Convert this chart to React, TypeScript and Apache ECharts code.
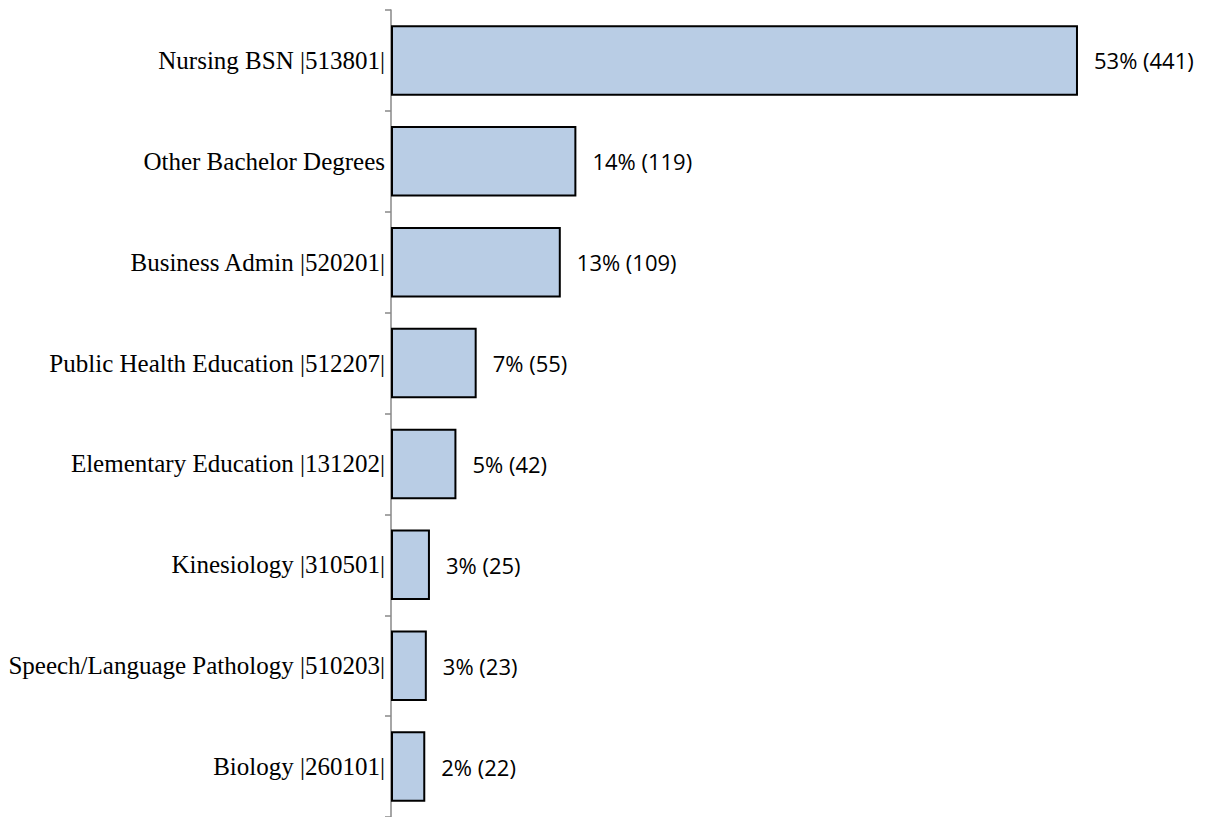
import React, { useEffect, useRef } from "react";
import * as echarts from "echarts";

const categories = [
  "Nursing BSN |513801|",
  "Other Bachelor Degrees",
  "Business Admin |520201|",
  "Public Health Education |512207|",
  "Elementary Education |131202|",
  "Kinesiology |310501|",
  "Speech/Language Pathology |510203|",
  "Biology |260101|",
];
const counts = [441, 119, 109, 55, 42, 25, 23, 22];
const percents = ["53%", "14%", "13%", "7%", "5%", "3%", "3%", "2%"];

export default function App() {
  const ref = useRef<HTMLDivElement>(null);
  useEffect(() => {
    const chart = echarts.init(ref.current!, null, { renderer: "svg" });
    chart.setOption({
      animation: false,
      backgroundColor: "#ffffff",
      grid: { left: 391, top: 10, width: 701, height: 808 },
      xAxis: { type: "value", min: 0, max: 450, show: false },
      yAxis: {
        type: "category",
        data: categories,
        inverse: true,
        axisLine: { show: true, lineStyle: { color: "#888888", width: 1.5 } },
        axisTick: { show: true, length: 6, lineStyle: { color: "#888888", width: 1.5 } },
        axisLabel: {
          margin: 6,
          color: "#000000",
          fontFamily: "Liberation Serif",
          fontSize: 25,
        },
        splitLine: { show: false },
      },
      series: [
        {
          type: "bar",
          data: counts,
          barCategoryGap: "30%",
          itemStyle: { color: "#B9CDE5", borderColor: "#000000", borderWidth: 2 },
          label: {
            show: true,
            position: "right",
            distance: 16,
            color: "#000000",
            fontFamily: "Open Sans",
            fontSize: 22,
            formatter: (p: any) => `${percents[p.dataIndex]} (${counts[p.dataIndex]})`,
          },
        },
      ],
    });
    return () => chart.dispose();
  }, []);
  return (
    <div
      ref={ref}
      style={{ position: "absolute", left: 0, top: 0, width: 1214, height: 817 }}
    />
  );
}
